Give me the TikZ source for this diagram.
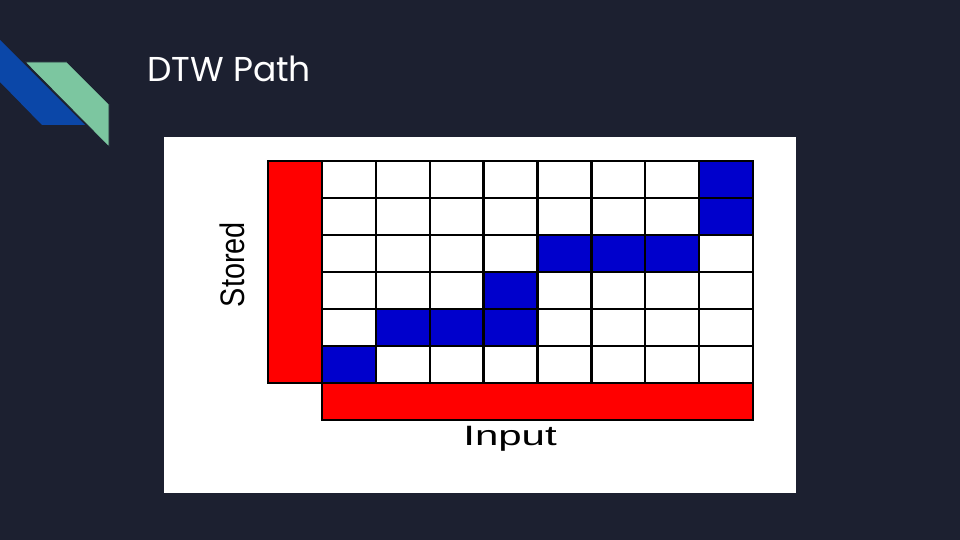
\documentclass[tikz,border=0pt]{standalone}
\usepackage{fontspec}
\setmainfont{Liberation Sans}
\newfontfamily\titlefont{Poppins}
\newfontfamily\labelfont{Liberation Sans}
\definecolor{slidebg}{HTML}{1C2030}
\definecolor{stripeblue}{HTML}{0B47A8}
\definecolor{stripegreen}{HTML}{7CC6A0}
\definecolor{pathblue}{HTML}{0000CC}
\begin{document}
\begin{tikzpicture}[x=1pt, y=-1pt,
  pathcell/.style={draw=black, line width=2.4pt, fill=pathblue},
  redbar/.style={draw=black, line width=2.4pt, fill=red},
  axislabel/.style={inner sep=0pt, text=black}]

\fill[slidebg] (0,0) rectangle (960,540);
\useasboundingbox (0,0) rectangle (960,540);

% corner stripes
\fill[stripeblue] (0,40) -- (85,125) -- (42,125) -- (0,82) -- cycle;
\draw[fill=stripegreen, draw=slidebg, line width=0.8pt] (25,62) -- (67,62) -- (109,104) -- (109,147) -- cycle;

\node[anchor=base west, inner sep=0pt, text=white, font=\titlefont\fontsize{34.5}{40}\selectfont] (title) at (147,82) {DTW Path};

% white panel
\fill[white] (164,137) rectangle (796,493);

\begin{scope}[shift={(322,383)}, x=53.875pt, y=37pt]

\draw[redbar] (-1 + 0, 0 + 0) rectangle (-1 + 1, 0 + 6);
\draw[redbar] (0 + 0, -1 + 0) rectangle (0 + 8, -1 + 1);

\draw[pathcell] (0 + 0, 0 + 0) rectangle (0 + 1, 0 + 1);
\draw[pathcell] (1 + 0, 1 + 0) rectangle (1 + 1, 1 + 1);
\draw[pathcell] (2 + 0, 1 + 0) rectangle (2 + 1, 1 + 1);
\draw[pathcell] (3 + 0, 1 + 0) rectangle (3 + 1, 1 + 1);
\draw[pathcell] (3 + 0, 2 + 0) rectangle (3 + 1, 2 + 1);
\draw[pathcell] (4 + 0, 3 + 0) rectangle (4 + 1, 3 + 1);
\draw[pathcell] (5 + 0, 3 + 0) rectangle (5 + 1, 3 + 1);
\draw[pathcell] (6 + 0, 3 + 0) rectangle (6 + 1, 3 + 1);
\draw[pathcell] (7 + 0, 4 + 0) rectangle (7 + 1, 4 + 1);
\draw[pathcell] (7 + 0, 5 + 0) rectangle (7 + 1, 5 + 1);

\draw[line width=2.4pt] (0,0) grid[step=1] (8,6);

\node[axislabel, rotate=90, xscale=0.85, font=\labelfont\fontsize{34}{40}\selectfont] (stored) at (-1.67, 3.2) {Stored};
\node[axislabel, xscale=1.5, font=\labelfont\fontsize{28}{34}\selectfont] (input) at (3.49, -1.5) {Input};

\end{scope}

\end{tikzpicture}
\end{document}
